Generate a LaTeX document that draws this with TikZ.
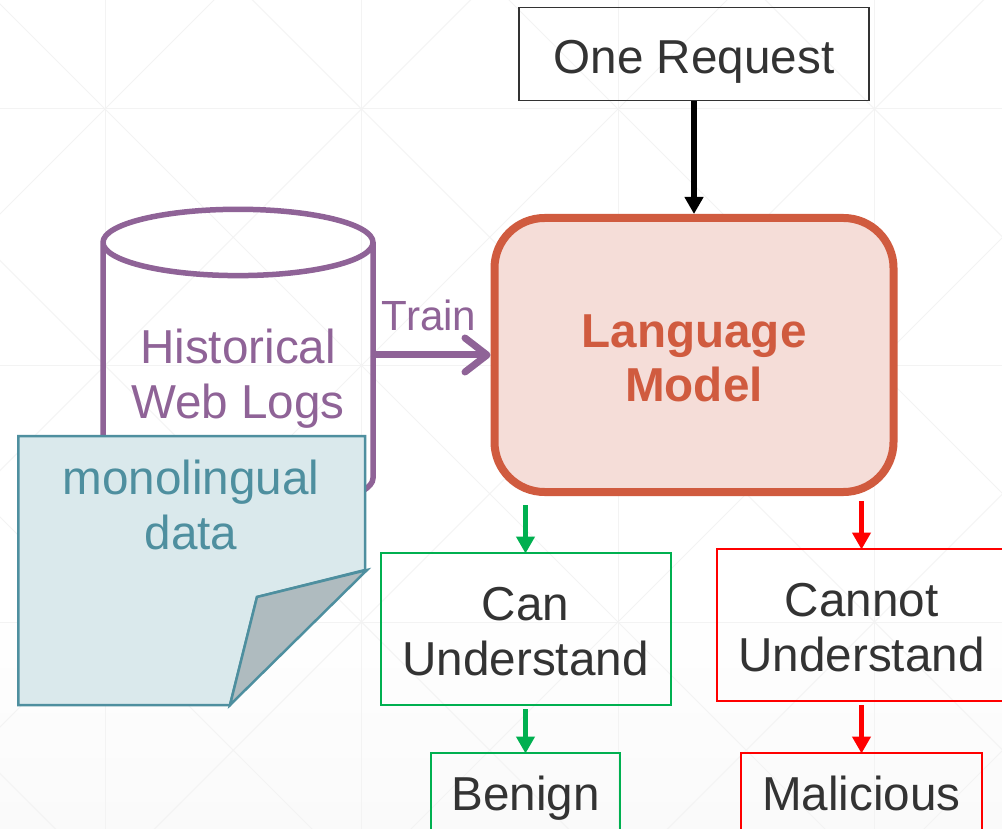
\documentclass[tikz,border=0pt]{standalone}
\usepackage{fontspec}
\setmainfont{Liberation Sans}
\usepackage{xcolor}
\usetikzlibrary{positioning, shapes.geometric, arrows.meta}
\definecolor{gridgray}{HTML}{F3F3F3}
\definecolor{inkgray}{HTML}{333333}
\definecolor{logpurple}{HTML}{8F6397}
\definecolor{modelred}{HTML}{D05B3F}
\definecolor{modelfill}{HTML}{F5DDD8}
\definecolor{noteblue}{HTML}{4E8F9F}
\definecolor{notefill}{HTML}{DAE9EC}
\definecolor{notefold}{HTML}{AFBBBF}
\definecolor{goodgreen}{HTML}{00B050}
\tikzstyle{label} = [font=\fontsize{13.55pt}{15.6pt}\selectfont, align=center, text=inkgray]
\tikzstyle{request} = [rectangle, label, minimum width=3.5cm, minimum height=0.93cm, text height=0.5cm, text depth=0.1cm, draw=inkgray, line width=0.015cm]
\tikzstyle{engine} = [rectangle, rounded corners=0.5cm, minimum width=3.99cm, minimum height=2.74cm, align=center, text height=1.04cm, text depth=0.1cm, draw=modelred, fill=modelfill, line width=0.08cm, text=modelred, font=\fontsize{13.55pt}{15.6pt}\selectfont\bfseries]
\tikzstyle{store} = [cylinder, shape border rotate=90, aspect=2.83, minimum width=2.7cm, minimum height=3.02cm, draw=logpurple, line width=0.055cm]
\tikzstyle{good} = [rectangle, label, minimum height=1.52cm, text height=1.02cm, text depth=0.1cm, draw=goodgreen, line width=0.02cm]
\tikzstyle{bad} = [rectangle, label, minimum height=1.52cm, text height=1.02cm, text depth=0.1cm, draw=red, line width=0.02cm]
\tikzstyle{ending} = [minimum height=0.93cm, text height=0.31cm, text depth=0.1cm]
\tikzstyle{arrow} = [line width=0.055cm,-{Triangle[length=0.17cm,width=0.18cm]}]
\tikzstyle{goodarrow} = [arrow, goodgreen, line width=0.05cm, shorten >=-0.015cm]
\tikzstyle{badarrow} = [arrow, red, line width=0.05cm, shorten >=-0.015cm]
\tikzstyle{trainarrow} = [line width=0.07cm, logpurple, line cap=round, -{Straight Barb[length=0.22cm,width=0.34cm,round]}]

\begin{document}
\begin{tikzpicture}[node distance=2cm]
	\useasboundingbox (0,0) rectangle (10.02,-8.29);
	\clip (0,0) rectangle (10.02,-8.29);
	
	% Background
	\fill [white] (0,0) rectangle (10.02,-6);
	\shade [top color=white, bottom color=black!2] (0,-6) rectangle (10.02,-8.29);
	\foreach \x in {-1,...,3} {
		\foreach \y in {-1,...,3} {
			\draw [gridgray, line width=0.01cm] ({1.05+2.565*\x},{-1.09-2.565*\y}) -- ++(2.565,-2.565);
			\draw [gridgray, line width=0.01cm] ({1.05+2.565*\x},{-3.655-2.565*\y}) -- ++(2.565,2.565);
			\draw [gridgray, line width=0.01cm] ({1.05+2.565*\x},{-1.09-2.565*\y}) -- ++(2.565,0);
			\draw [gridgray, line width=0.01cm] ({1.05+2.565*\x},{-1.09-2.565*\y}) -- ++(0,-2.565);
		}
	}
	
	% Nodes
	\node (request) [request] at (6.94,-0.54) {One Request};
	\node (model) [engine, below of=request, yshift=-1.01cm] {Language\\Model};
	
	\node (logs) [store, left of=model, xshift=-2.56cm, yshift=-0.30cm] {};
	\node (logs_text) [label, text=logpurple] at (2.38,-3.79) {Historical\\Web Logs};
	
	\node (can) [good, minimum width=2.9cm, below of=model, xshift=-1.685cm, yshift=-0.74cm] {Can\\Understand};
	\node (benign) [good, ending, minimum width=1.89cm, below of=can, yshift=0.295cm] {Benign};
	
	\node (cannot) [bad, minimum width=2.9cm, below of=model, xshift=1.675cm, yshift=-0.70cm] {Cannot\\Understand};
	\node (malicious) [bad, ending, minimum width=2.41cm, below of=cannot, yshift=0.255cm] {Malicious};
	
	% Note
	\draw [noteblue, fill=notefill, line width=0.025cm] (0.183,-4.36) -- (3.65,-4.36) -- (3.65,-5.70) -- (2.57,-5.97) -- (2.30,-7.05) -- (0.183,-7.05) -- cycle;
	\draw [noteblue, fill=notefold, line width=0.025cm] (3.67,-5.70) -- (2.57,-5.97) -- (2.30,-7.05) -- cycle;
	\node (note_text) [label, text=noteblue] at (1.91,-5.05) {monolingual\\data};
	
	% Arrows
	\draw [arrow] (request) -- (model);
	\draw [trainarrow] (logs.east |- model.west) -- node[anchor=south, text=logpurple, font=\fontsize{12pt}{14pt}\selectfont, xshift=-0.04cm, yshift=0.09cm] {Train} (model.west);
	\draw [goodarrow, shorten <=0.09cm] (model.south -| can.north) -- (can.north);
	\draw [goodarrow, shorten <=0.03cm] (can) -- (benign);
	\draw [badarrow, shorten <=0.05cm] (model.south -| cannot.north) -- (cannot.north);
	\draw [badarrow, shorten <=0.03cm] (cannot) -- (malicious);
\end{tikzpicture}
\end{document}
